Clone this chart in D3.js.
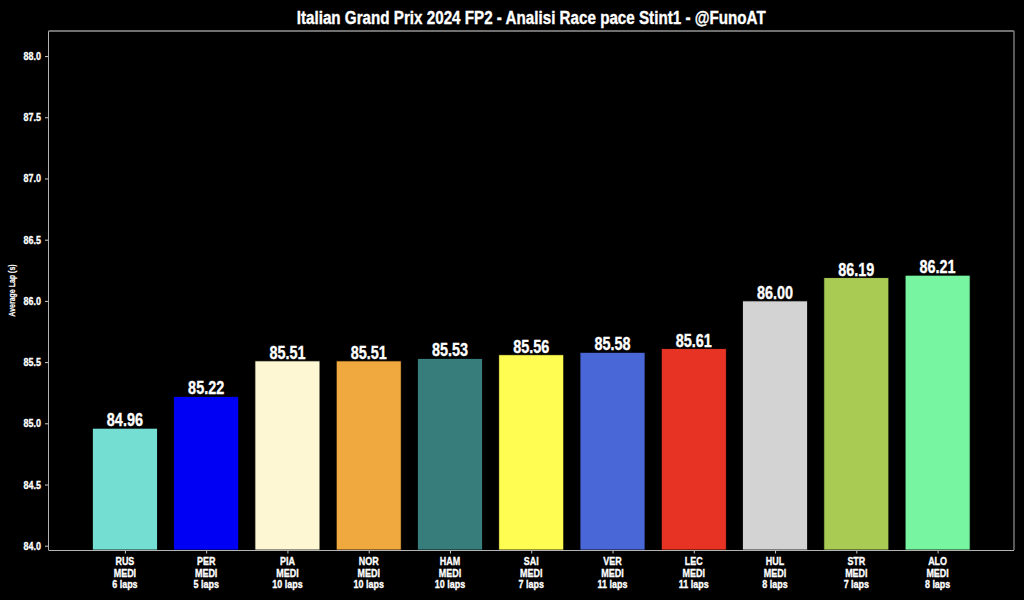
<!DOCTYPE html>
<html><head><meta charset="utf-8">
<script src="https://cdn.jsdelivr.net/npm/d3@7"></script>
<style>
html,body{margin:0;padding:0;background:#000;}
svg{display:block;}
text{font-family:"Liberation Sans",Arial,sans-serif;font-weight:bold;fill:#fff;stroke:#fff;stroke-width:0.35px;}
</style></head>
<body><svg id="c" width="1024" height="600"></svg>
<script>
const drivers = ["RUS","PER","PIA","NOR","HAM","SAI","VER","LEC","HUL","STR","ALO"];
const compounds = ["MEDI","MEDI","MEDI","MEDI","MEDI","MEDI","MEDI","MEDI","MEDI","MEDI","MEDI"];
const laps = [6,5,10,10,10,7,11,11,8,7,8];
const avgLap = [84.96,85.22,85.51,85.51,85.53,85.56,85.58,85.61,86.00,86.19,86.21];
const colors = ["#74ded2","#0000f5","#fdf8d3","#f0a93f","#367d7b","#fffc52","#4a67d8","#e73323","#d3d3d3","#a9cb54","#77f5a0"];
const yTicks = [84.0,84.5,85.0,85.5,86.0,86.5,87.0,87.5,88.0];
const titleText = "Italian Grand Prix 2024 FP2 - Analisi Race pace Stint1 - @FunoAT";
const yLabel = "Average Lap (s)";

const svg = d3.select("#c");
const L = 48.5, R = 1014, T = 31, B = 550;
const n = drivers.length;
const x = d3.scaleLinear().domain([-0.94, n - 1 + 0.94]).range([L, R]);
const y = d3.scaleLinear().domain([83.965, 88.205]).range([B, T]);
const bw = x(0.4) - x(-0.4);
const SX = 0.78;

// bars
svg.selectAll("rect.bar").data(avgLap).enter().append("rect")
  .attr("class","bar")
  .attr("x",(d,i)=>x(i)-bw/2).attr("width",bw)
  .attr("y",d=>y(d)).attr("height",d=>B-y(d))
  .attr("fill",(d,i)=>colors[i]).attr("stroke","#000").attr("stroke-width",0.8);

// value labels
svg.selectAll("text.val").data(avgLap).enter().append("text")
  .attr("class","val")
  .attr("transform",(d,i)=>`translate(${x(i)},${y(d)-2}) scale(${SX},1)`)
  .attr("text-anchor","middle").attr("font-size","18.5px")
  .text(d=>d.toFixed(2));

// y axis
const yAxis = d3.axisLeft(y).tickValues(yTicks).tickFormat("").tickSize(3.5);
const gy = svg.append("g").attr("transform",`translate(${L},0)`).call(yAxis);
gy.select(".domain").remove();
gy.selectAll("line").attr("stroke","#ccc");
svg.append("g").selectAll("text").data(yTicks).enter().append("text")
  .attr("transform",d=>`translate(41,${y(d)+4}) scale(${SX},1)`)
  .attr("text-anchor","end").attr("font-size","11.5px")
  .text(d3.format(".1f"));

// x axis
const xAxis = d3.axisBottom(x).tickValues(d3.range(n)).tickFormat("").tickSize(3.5);
const gx = svg.append("g").attr("transform",`translate(0,${B})`).call(xAxis);
gx.select(".domain").remove();
gx.selectAll("line").attr("stroke","#ccc");

const xl = svg.append("g").selectAll("text").data(drivers).enter().append("text")
  .attr("transform",(d,i)=>`translate(${x(i)},565) scale(${SX},1)`)
  .attr("text-anchor","middle").attr("font-size","11.5px");
xl.append("tspan").attr("x",0).attr("dy",0).text(d=>d);
xl.append("tspan").attr("x",0).attr("dy",11.6).text((d,i)=>compounds[i]);
xl.append("tspan").attr("x",0).attr("dy",11.6).text((d,i)=>laps[i]+" laps");

// spines
svg.append("line").attr("x1",L).attr("x2",L).attr("y1",T).attr("y2",B).attr("stroke","#b4b4b4").attr("stroke-width",1);
svg.append("line").attr("x1",R).attr("x2",R).attr("y1",T).attr("y2",B).attr("stroke","#b4b4b4").attr("stroke-width",1);
svg.append("line").attr("x1",L).attr("x2",R).attr("y1",B+0.5).attr("y2",B+0.5).attr("stroke","#b4b4b4").attr("stroke-width",1);
svg.append("line").attr("x1",L).attr("x2",R).attr("y1",T).attr("y2",T).attr("stroke","#707070").attr("stroke-width",2);

// y label
svg.append("text").attr("transform",`translate(15,${(T+B)/2}) rotate(-90) scale(${SX},1)`)
  .attr("text-anchor","middle").attr("font-size","9px").style("stroke-width","0.2px").text(yLabel);

// title
svg.append("text").attr("x",(L+R)/2).attr("y",24).attr("text-anchor","middle")
  .attr("font-size","18px").attr("textLength",469).attr("lengthAdjust","spacingAndGlyphs").text(titleText);
</script></body></html>
